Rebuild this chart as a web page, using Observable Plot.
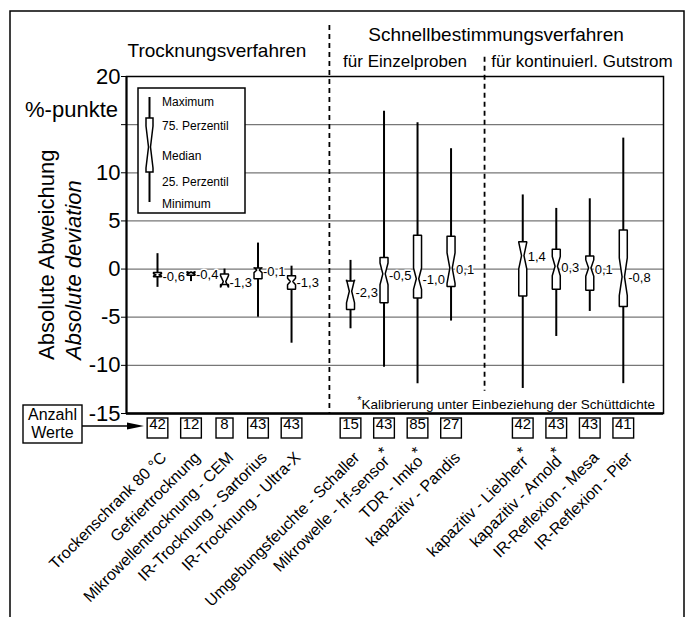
<!DOCTYPE html>
<html><head><meta charset="utf-8">
<script src="https://cdn.jsdelivr.net/npm/d3@7"></script>
<script src="https://cdn.jsdelivr.net/npm/@observablehq/plot@0.6"></script>
<style>
html,body{margin:0;padding:0;background:#fff;}
#chart{width:694px;height:617px;overflow:hidden;}
svg text{font-family:"Liberation Sans",Arial,Helvetica,sans-serif;}
</style></head><body><div id="chart"></div>
<script>
// ---------- data ----------
const methods = [
  "Trockenschrank 80 °C","Gefriertrocknung","Mikrowellentrocknung - CEM","IR-Trocknung - Sartorius","IR-Trocknung - Ultra-X",
  "Umgebungsfeuchte - Schaller","Mikrowelle - hf-sensor*","TDR - Imko*","kapazitiv - Pandis",
  "kapazitiv - Liebherr*","kapazitiv - Arnold*","IR-Reflexion - Mesa","IR-Reflexion - Pier"
];
const groups = [0,0,0,0,0,1,1,1,1,2,2,2,2];
const counts = [42,12,8,43,43,15,43,85,27,42,43,43,41];
const maxima = [1.6,-0.3,0.0,2.7,0.3,0.9,16.4,15.2,12.5,7.7,6.3,7.3,13.6];
const upperQuartiles = [-0.35,-0.35,-0.5,0.1,-0.7,-1.25,1.2,3.5,3.4,2.85,2.05,1.35,4.05];
const medians = [-0.6,-0.4,-1.3,-0.1,-1.3,-2.3,-0.5,-1.0,0.1,1.4,0.3,0.1,-0.8];
const lowerQuartiles = [-0.8,-0.65,-1.6,-1.0,-2.1,-4.2,-3.5,-3.0,-1.8,-2.8,-2.1,-2.2,-3.9];
const minima = [-1.9,-1.3,-1.7,-5.0,-7.7,-6.2,-10.2,-11.9,-5.4,-12.4,-7.0,-4.4,-11.9];
const groupOffsets = [0, 0.76, 1.9];
const separators = [5.13, 9.76];
const separatorTops = [25.3, 22.0];
const separatorBottoms = [-15, -12.7];
const yTicks = [20,15,10,5,0,-5,-10,-15];
const yTickLabels = ["20","","10","5","0","-5","-10","-15"];
const gridValues = [15,10,5,0,-5,-10];
const groupTitles = ["Trocknungsverfahren","Schnellbestimmungsverfahren","für Einzelproben","für kontinuierl. Gutstrom"];
const legendLabels = ["Maximum","75. Perzentil","Median","25. Perzentil","Minimum"];
const yTitles = ["Absolute Abweichung","Absolute deviation"];
const unitLabel = "%-punkte";
const countTitle = ["Anzahl","Werte"];
const footnote = "Kalibrierung unter Einbeziehung der Schüttdichte";

// ---------- build ----------
const rows = methods.map((name,i)=>({
  name, group: groups[i], pos: i + groupOffsets[groups[i]], n: counts[i],
  max: maxima[i], q3: upperQuartiles[i], med: medians[i], q1: lowerQuartiles[i], min: minima[i]
}));
const W=694, H=617, ML=126, MR=31, MT=76, MB=204;
const xDomain=[-0.925, 15.1];
const pxPerUnit = (W-ML-MR)/(xDomain[1]-xDomain[0]);
const halfW = 4/pxPerUnit, waistW = 1.2/pxPerUnit;
const boxPts = rows.flatMap(r => {
  const notch = 1.58*(r.q3-r.q1)/Math.sqrt(r.n);
  const hi = r.med + notch, lo = r.med - notch;
  const L = r.pos-halfW, R = r.pos+halfW;
  return [[L,r.q3],[R,r.q3],[R,hi],[r.pos+waistW,r.med],[R,lo],[R,r.q1],[L,r.q1],[L,lo],[r.pos-waistW,r.med],[L,hi],[L,r.q3]]
    .map(([x,y])=>({name:r.name,x,y}));
});
const fmtDec = v => v.toFixed(1).replace(".", ",");
const sepRows = separators.map((x,i)=>({x, top: separatorTops[i], bottom: separatorBottoms[i]}));

const plot = Plot.plot({
  width: W, height: H, marginLeft: ML, marginRight: MR, marginTop: MT, marginBottom: MB,
  style: {background:"white", color:"black", fontFamily:"Liberation Sans, Arial, sans-serif", fontSize:"22px"},
  x: {type:"linear", domain:xDomain, axis:null},
  y: {domain:[-15,20], ticks:yTicks, tickFormat: d => yTickLabels[yTicks.indexOf(d)], tickSize:5, tickPadding:1, label:null},
  marks: [
    Plot.ruleY(gridValues, {stroke:"#777", strokeWidth:1.2}),
    Plot.frame({stroke:"black", strokeWidth:1.5}),
    Plot.ruleX([xDomain[0]], {stroke:"black", strokeWidth:2}),
    Plot.ruleY([-15], {stroke:"black", strokeWidth:2.5}),
    Plot.text(rows, {x:"pos", y:"med", text: d => fmtDec(d.med), textAnchor:"start", dx:5, dy:1.5,
      fontSize:13, fill:"black", stroke:"white", strokeWidth:3, paintOrder:"stroke"}),
    Plot.ruleX(sepRows, {x:"x", y1:"top", y2:"bottom", stroke:"black", strokeWidth:1.8, strokeDasharray:"5,4"}),
    Plot.ruleX(rows, {x:"pos", y1:"min", y2:"max", stroke:"black", strokeWidth:2}),
    Plot.line(boxPts, {x:"x", y:"y", z:"name", fill:"white", stroke:"black", strokeWidth:1.5, strokeLinejoin:"miter"}),
    Plot.text(rows, {x:"pos", frameAnchor:"bottom", text:"name", rotate:-45, textAnchor:"end", lineAnchor:"bottom",
      dx:10, dy:45, fontSize:16, fill:"black"}),
    Plot.text(rows, {x:"pos", frameAnchor:"bottom", text: d => String(d.n), dy:15, fontSize:15, fill:"black"})
  ]
});
document.getElementById("chart").appendChild(plot);

// ---------- annotations ----------
const svg = d3.select(plot);
const countSet = new Set(counts.map(String));
svg.selectAll("text").each(function(){
  const t = this.textContent;
  const b = this.getBoundingClientRect();
  const cy = b.top + b.height/2;
  if (/^\d+$/.test(t) && countSet.has(t) && cy > 418 && cy < 440) {
    const bb = this.getBBox();
    const w = Math.max(bb.width + 4, 17);
    const cx = b.left + b.width/2;
    svg.append("rect").attr("x", cx - w/2).attr("y", 418).attr("width", w).attr("height", 20)
      .attr("fill","none").attr("stroke","black").attr("stroke-width",1.4);
  }
  if (t.endsWith("*") && t.length > 1) {
    const base = t.slice(0,-1);
    this.textContent = base;
    d3.select(this).append("tspan").attr("dy","-0.45em").attr("dx","-1").text("*");
  }
});

const ann = svg.append("g").attr("fill","black").attr("text-anchor","start")
  .attr("font-family","Liberation Sans, Arial, sans-serif");
ann.append("rect").attr("x",10).attr("y",11).attr("width",674).attr("height",700)
  .attr("fill","none").attr("stroke","black").attr("stroke-width",1.5);

ann.append("text").attr("x",217).attr("y",57).attr("text-anchor","middle").attr("font-size",19).text(groupTitles[0]);
ann.append("text").attr("x",496).attr("y",41).attr("text-anchor","middle").attr("font-size",19).text(groupTitles[1]);
ann.append("text").attr("x",405).attr("y",67).attr("text-anchor","middle").attr("font-size",17).text(groupTitles[2]);
ann.append("text").attr("x",582).attr("y",67).attr("text-anchor","middle").attr("font-size",17).text(groupTitles[3]);

ann.append("text").attr("x",118).attr("y",117).attr("text-anchor","end").attr("font-size",22).text(unitLabel);
ann.append("text").attr("transform","translate(54,360) rotate(-90)").attr("text-anchor","start").attr("font-size",22).text(yTitles[0]);
ann.append("text").attr("transform","translate(81,360) rotate(-90)").attr("text-anchor","start").attr("font-size",22).attr("font-style","italic").text(yTitles[1]);

// legend
const lg = ann.append("g");
lg.append("rect").attr("x",138).attr("y",88).attr("width",107).attr("height",125)
  .attr("fill","white").attr("stroke","black").attr("stroke-width",1.5);
const lcx=149.5, hw=3.5, ww=1;
lg.append("line").attr("x1",lcx).attr("x2",lcx).attr("y1",97).attr("y2",202).attr("stroke","black").attr("stroke-width",2);
lg.append("path").attr("d",`M${lcx-hw},118H${lcx+hw}V126L${lcx+ww},147L${lcx+hw},168V172H${lcx-hw}V168L${lcx-ww},147L${lcx-hw},126Z`)
  .attr("fill","white").attr("stroke","black").attr("stroke-width",1.5);
const legendY = [106,130,160,186,208];
legendLabels.forEach((l,i)=>{
  lg.append("text").attr("x",162).attr("y",legendY[i]).attr("text-anchor","start").attr("font-size",12).text(l);
});

// Anzahl Werte
ann.append("rect").attr("x",23).attr("y",405).attr("width",59).attr("height",38)
  .attr("fill","white").attr("stroke","black").attr("stroke-width",1.4);
ann.append("text").attr("x",52.5).attr("y",420).attr("text-anchor","middle").attr("font-size",16).text(countTitle[0]);
ann.append("text").attr("x",52.5).attr("y",438).attr("text-anchor","middle").attr("font-size",16).text(countTitle[1]);
ann.append("line").attr("x1",82).attr("x2",132).attr("y1",426).attr("y2",426).attr("stroke","black").attr("stroke-width",1.5);
ann.append("path").attr("d","M127,422.5L144,426L127,429.5Z").attr("fill","black");

// footnote
const fn = ann.append("text").attr("x",655).attr("y",408).attr("text-anchor","end").attr("font-size",13.5);
fn.append("tspan").attr("dy","-0.4em").attr("font-size",11).text("*");
fn.append("tspan").attr("dy","0.4em").text(footnote);
</script></body></html>
